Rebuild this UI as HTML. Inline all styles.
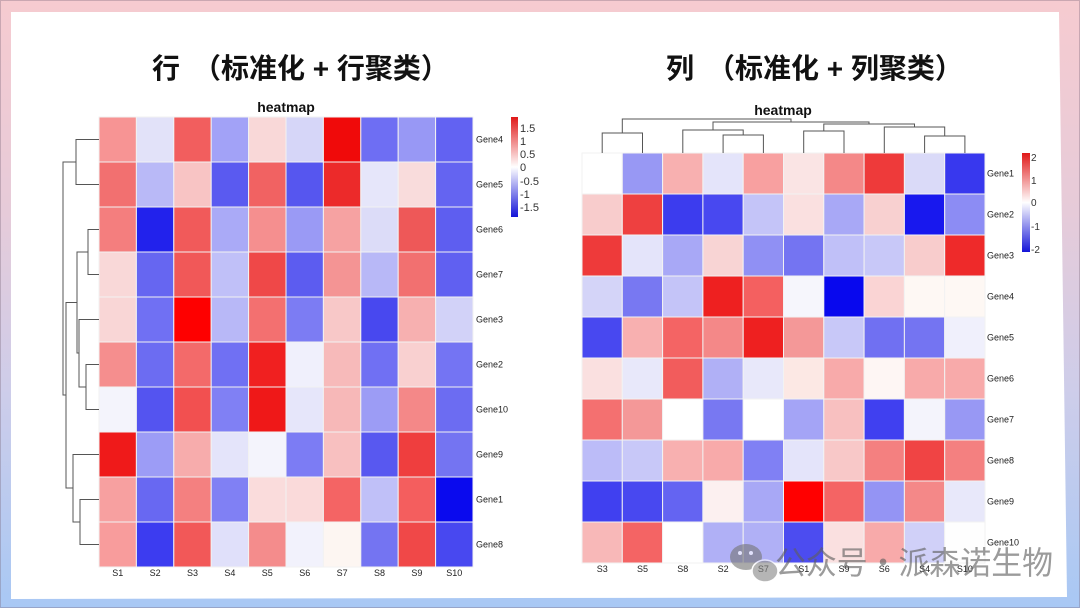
<!DOCTYPE html>
<html>
<head>
<meta charset="utf-8">
<style>
html,body{margin:0;padding:0;}
body{width:1080px;height:608px;overflow:hidden;position:relative;
background:linear-gradient(to bottom,#f6cbd0 0%,#e6cbd9 35%,#cdcdea 65%,#a8c8f4 100%);}
svg{position:absolute;left:0;top:0;}
.lab{font-family:"Liberation Sans",Arial,sans-serif;font-size:9px;fill:#222;}
.leg{font-family:"Liberation Sans",Arial,sans-serif;fill:#333;}
.ttl{font-family:"Liberation Sans","Noto Sans CJK SC",sans-serif;font-size:28px;font-weight:bold;fill:#111;}
.hm{font-family:"Liberation Sans",Arial,sans-serif;font-size:14px;font-weight:bold;fill:#111;}
.L rect,.R rect{stroke:#f2f2f2;stroke-width:1;}
.dg{fill:none;stroke:#555;stroke-width:1;}
</style>
</head>
<body>
<svg width="1080" height="608" viewBox="0 0 1080 608" xmlns="http://www.w3.org/2000/svg">
<defs>
<linearGradient id="gl" x1="0" y1="0" x2="0" y2="1">
<stop offset="0" stop-color="#e01818"/><stop offset="0.5" stop-color="#ffffff"/><stop offset="1" stop-color="#1414d8"/>
</linearGradient>
</defs>
<rect x="0.5" y="0.5" width="1079" height="607" fill="none" stroke="rgba(120,100,120,0.35)" stroke-width="1"/>
<polygon points="11,12 1059,12 1067,597 11,599" fill="#ffffff"/>

<!-- Titles -->
<text class="ttl" x="152" y="78">行</text>
<text class="ttl" x="193" y="78">（标准化 + 行聚类）</text>
<text class="ttl" x="666" y="78">列</text>
<text class="ttl" x="707" y="78">（标准化 + 列聚类）</text>

<text class="hm" x="286" y="112" text-anchor="middle">heatmap</text>
<text class="hm" x="783" y="115" text-anchor="middle">heatmap</text>

<!-- LEFT HEATMAP -->
<g class="L">
<rect x="99" y="117" width="37.4" height="45" fill="#f79494"/>
<rect x="136.4" y="117" width="37.4" height="45" fill="#e2e2f9"/>
<rect x="173.8" y="117" width="37.4" height="45" fill="#f25e5e"/>
<rect x="211.2" y="117" width="37.4" height="45" fill="#a2a2f7"/>
<rect x="248.6" y="117" width="37.4" height="45" fill="#f9d8d8"/>
<rect x="286" y="117" width="37.4" height="45" fill="#d6d6f8"/>
<rect x="323.4" y="117" width="37.4" height="45" fill="#f00a0a"/>
<rect x="360.8" y="117" width="37.4" height="45" fill="#6e6ef3"/>
<rect x="398.2" y="117" width="37.4" height="45" fill="#9898f5"/>
<rect x="435.6" y="117" width="37.4" height="45" fill="#6262f2"/>
<rect x="99" y="162" width="37.4" height="45" fill="#f27070"/>
<rect x="136.4" y="162" width="37.4" height="45" fill="#b9b9f7"/>
<rect x="173.8" y="162" width="37.4" height="45" fill="#f8c4c4"/>
<rect x="211.2" y="162" width="37.4" height="45" fill="#5a5af0"/>
<rect x="248.6" y="162" width="37.4" height="45" fill="#f16262"/>
<rect x="286" y="162" width="37.4" height="45" fill="#5656ef"/>
<rect x="323.4" y="162" width="37.4" height="45" fill="#ec2a2a"/>
<rect x="360.8" y="162" width="37.4" height="45" fill="#e6e6fa"/>
<rect x="398.2" y="162" width="37.4" height="45" fill="#f9dcdc"/>
<rect x="435.6" y="162" width="37.4" height="45" fill="#6464f1"/>
<rect x="99" y="207" width="37.4" height="45" fill="#f47e7e"/>
<rect x="136.4" y="207" width="37.4" height="45" fill="#2222ec"/>
<rect x="173.8" y="207" width="37.4" height="45" fill="#f15a5a"/>
<rect x="211.2" y="207" width="37.4" height="45" fill="#aaaaf7"/>
<rect x="248.6" y="207" width="37.4" height="45" fill="#f58f8f"/>
<rect x="286" y="207" width="37.4" height="45" fill="#9a9af5"/>
<rect x="323.4" y="207" width="37.4" height="45" fill="#f6a2a2"/>
<rect x="360.8" y="207" width="37.4" height="45" fill="#dcdcf8"/>
<rect x="398.2" y="207" width="37.4" height="45" fill="#ee5858"/>
<rect x="435.6" y="207" width="37.4" height="45" fill="#5e5ef0"/>
<rect x="99" y="252" width="37.4" height="45" fill="#f9d8d8"/>
<rect x="136.4" y="252" width="37.4" height="45" fill="#6666f1"/>
<rect x="173.8" y="252" width="37.4" height="45" fill="#f15858"/>
<rect x="211.2" y="252" width="37.4" height="45" fill="#c0c0f8"/>
<rect x="248.6" y="252" width="37.4" height="45" fill="#ef4848"/>
<rect x="286" y="252" width="37.4" height="45" fill="#5c5cf0"/>
<rect x="323.4" y="252" width="37.4" height="45" fill="#f49494"/>
<rect x="360.8" y="252" width="37.4" height="45" fill="#b8b8f7"/>
<rect x="398.2" y="252" width="37.4" height="45" fill="#f27070"/>
<rect x="435.6" y="252" width="37.4" height="45" fill="#6060f1"/>
<rect x="99" y="297" width="37.4" height="45" fill="#f9d6d6"/>
<rect x="136.4" y="297" width="37.4" height="45" fill="#7070f3"/>
<rect x="173.8" y="297" width="37.4" height="45" fill="#fe0000"/>
<rect x="211.2" y="297" width="37.4" height="45" fill="#b8b8f7"/>
<rect x="248.6" y="297" width="37.4" height="45" fill="#f37070"/>
<rect x="286" y="297" width="37.4" height="45" fill="#7c7cf3"/>
<rect x="323.4" y="297" width="37.4" height="45" fill="#f8c8c8"/>
<rect x="360.8" y="297" width="37.4" height="45" fill="#4848ef"/>
<rect x="398.2" y="297" width="37.4" height="45" fill="#f7b0b0"/>
<rect x="435.6" y="297" width="37.4" height="45" fill="#d2d2f8"/>
<rect x="99" y="342" width="37.4" height="45" fill="#f58e8e"/>
<rect x="136.4" y="342" width="37.4" height="45" fill="#6c6cf2"/>
<rect x="173.8" y="342" width="37.4" height="45" fill="#f36a6a"/>
<rect x="211.2" y="342" width="37.4" height="45" fill="#7070f3"/>
<rect x="248.6" y="342" width="37.4" height="45" fill="#f02020"/>
<rect x="286" y="342" width="37.4" height="45" fill="#f0f0fc"/>
<rect x="323.4" y="342" width="37.4" height="45" fill="#f7baba"/>
<rect x="360.8" y="342" width="37.4" height="45" fill="#7070f3"/>
<rect x="398.2" y="342" width="37.4" height="45" fill="#f9d0d0"/>
<rect x="435.6" y="342" width="37.4" height="45" fill="#7474f3"/>
<rect x="99" y="387" width="37.4" height="45" fill="#f4f4fc"/>
<rect x="136.4" y="387" width="37.4" height="45" fill="#5454f0"/>
<rect x="173.8" y="387" width="37.4" height="45" fill="#f25050"/>
<rect x="211.2" y="387" width="37.4" height="45" fill="#8080f4"/>
<rect x="248.6" y="387" width="37.4" height="45" fill="#ef1818"/>
<rect x="286" y="387" width="37.4" height="45" fill="#e6e6fa"/>
<rect x="323.4" y="387" width="37.4" height="45" fill="#f7b8b8"/>
<rect x="360.8" y="387" width="37.4" height="45" fill="#9c9cf5"/>
<rect x="398.2" y="387" width="37.4" height="45" fill="#f48888"/>
<rect x="435.6" y="387" width="37.4" height="45" fill="#6c6cf2"/>
<rect x="99" y="432" width="37.4" height="45" fill="#ef1a1a"/>
<rect x="136.4" y="432" width="37.4" height="45" fill="#9c9cf6"/>
<rect x="173.8" y="432" width="37.4" height="45" fill="#f7acac"/>
<rect x="211.2" y="432" width="37.4" height="45" fill="#e4e4fa"/>
<rect x="248.6" y="432" width="37.4" height="45" fill="#f4f4fc"/>
<rect x="286" y="432" width="37.4" height="45" fill="#7c7cf4"/>
<rect x="323.4" y="432" width="37.4" height="45" fill="#f8c0c0"/>
<rect x="360.8" y="432" width="37.4" height="45" fill="#5858f0"/>
<rect x="398.2" y="432" width="37.4" height="45" fill="#ef3e3e"/>
<rect x="435.6" y="432" width="37.4" height="45" fill="#7474f2"/>
<rect x="99" y="477" width="37.4" height="45" fill="#f7a0a0"/>
<rect x="136.4" y="477" width="37.4" height="45" fill="#6868f2"/>
<rect x="173.8" y="477" width="37.4" height="45" fill="#f48080"/>
<rect x="211.2" y="477" width="37.4" height="45" fill="#8080f4"/>
<rect x="248.6" y="477" width="37.4" height="45" fill="#fadcdc"/>
<rect x="286" y="477" width="37.4" height="45" fill="#fadada"/>
<rect x="323.4" y="477" width="37.4" height="45" fill="#f46464"/>
<rect x="360.8" y="477" width="37.4" height="45" fill="#c0c0f8"/>
<rect x="398.2" y="477" width="37.4" height="45" fill="#f45e5e"/>
<rect x="435.6" y="477" width="37.4" height="45" fill="#0a0aee"/>
<rect x="99" y="522" width="37.4" height="45" fill="#f89c9c"/>
<rect x="136.4" y="522" width="37.4" height="45" fill="#3c3cf0"/>
<rect x="173.8" y="522" width="37.4" height="45" fill="#f25858"/>
<rect x="211.2" y="522" width="37.4" height="45" fill="#e0e0fa"/>
<rect x="248.6" y="522" width="37.4" height="45" fill="#f48c8c"/>
<rect x="286" y="522" width="37.4" height="45" fill="#f2f2fc"/>
<rect x="323.4" y="522" width="37.4" height="45" fill="#fdf6f2"/>
<rect x="360.8" y="522" width="37.4" height="45" fill="#7474f2"/>
<rect x="398.2" y="522" width="37.4" height="45" fill="#f04848"/>
<rect x="435.6" y="522" width="37.4" height="45" fill="#4848f0"/>
</g>

<g class="lab">
<text x="476" y="142.5">Gene4</text>
<text x="476" y="187.5">Gene5</text>
<text x="476" y="232.5">Gene6</text>
<text x="476" y="277.5">Gene7</text>
<text x="476" y="322.5">Gene3</text>
<text x="476" y="367.5">Gene2</text>
<text x="476" y="412.5">Gene10</text>
<text x="476" y="457.5">Gene9</text>
<text x="476" y="502.5">Gene1</text>
<text x="476" y="547.5">Gene8</text>
</g>
<g class="lab" text-anchor="middle">
<text x="117.7" y="576">S1</text>
<text x="155.1" y="576">S2</text>
<text x="192.5" y="576">S3</text>
<text x="229.9" y="576">S4</text>
<text x="267.3" y="576">S5</text>
<text x="304.7" y="576">S6</text>
<text x="342.1" y="576">S7</text>
<text x="379.5" y="576">S8</text>
<text x="416.9" y="576">S9</text>
<text x="454.3" y="576">S10</text>
</g>

<path class="dg" d="
M99,139.5H76V184.5H99
M99,229.5H88V274.5H99
M99,364.5H86V409.5H99
M99,319.5H79V387H86
M88,252H77V353H79
M99,499.5H80V544.5H99
M99,454.5H73V522H80
M77,302.5H66V488H73
M76,162H63V395H66"/>

<rect x="511" y="117" width="7" height="100" fill="url(#gl)"/>
<g class="leg" font-size="11">
<text x="520" y="132">1.5</text>
<text x="520" y="145">1</text>
<text x="520" y="158">0.5</text>
<text x="520" y="171">0</text>
<text x="520" y="185">-0.5</text>
<text x="520" y="198">-1</text>
<text x="520" y="211">-1.5</text>
</g>

<!-- RIGHT HEATMAP -->
<g class="R">
<rect x="582" y="153" width="40.3" height="41" fill="#ffffff"/>
<rect x="622.3" y="153" width="40.3" height="41" fill="#9898f4"/>
<rect x="662.6" y="153" width="40.3" height="41" fill="#f8b0b0"/>
<rect x="702.9" y="153" width="40.3" height="41" fill="#e4e4fa"/>
<rect x="743.2" y="153" width="40.3" height="41" fill="#f8a0a0"/>
<rect x="783.5" y="153" width="40.3" height="41" fill="#fae4e4"/>
<rect x="823.8" y="153" width="40.3" height="41" fill="#f48888"/>
<rect x="864.1" y="153" width="40.3" height="41" fill="#ee3a3a"/>
<rect x="904.4" y="153" width="40.3" height="41" fill="#dadaf8"/>
<rect x="944.7" y="153" width="40.3" height="41" fill="#3838ee"/>
<rect x="582" y="194" width="40.3" height="41" fill="#f8cccc"/>
<rect x="622.3" y="194" width="40.3" height="41" fill="#ee4040"/>
<rect x="662.6" y="194" width="40.3" height="41" fill="#3c3cee"/>
<rect x="702.9" y="194" width="40.3" height="41" fill="#4848f0"/>
<rect x="743.2" y="194" width="40.3" height="41" fill="#c4c4f8"/>
<rect x="783.5" y="194" width="40.3" height="41" fill="#fae0e0"/>
<rect x="823.8" y="194" width="40.3" height="41" fill="#a8a8f6"/>
<rect x="864.1" y="194" width="40.3" height="41" fill="#f8d0d0"/>
<rect x="904.4" y="194" width="40.3" height="41" fill="#1818ee"/>
<rect x="944.7" y="194" width="40.3" height="41" fill="#8c8cf4"/>
<rect x="582" y="235" width="40.3" height="41" fill="#ee3a3a"/>
<rect x="622.3" y="235" width="40.3" height="41" fill="#e4e4fa"/>
<rect x="662.6" y="235" width="40.3" height="41" fill="#a8a8f6"/>
<rect x="702.9" y="235" width="40.3" height="41" fill="#f8d4d4"/>
<rect x="743.2" y="235" width="40.3" height="41" fill="#9090f4"/>
<rect x="783.5" y="235" width="40.3" height="41" fill="#7474f2"/>
<rect x="823.8" y="235" width="40.3" height="41" fill="#c0c0f8"/>
<rect x="864.1" y="235" width="40.3" height="41" fill="#c8c8f8"/>
<rect x="904.4" y="235" width="40.3" height="41" fill="#f8cccc"/>
<rect x="944.7" y="235" width="40.3" height="41" fill="#ee2a2a"/>
<rect x="582" y="276" width="40.3" height="41" fill="#d4d4f8"/>
<rect x="622.3" y="276" width="40.3" height="41" fill="#7878f2"/>
<rect x="662.6" y="276" width="40.3" height="41" fill="#c4c4f8"/>
<rect x="702.9" y="276" width="40.3" height="41" fill="#ee2020"/>
<rect x="743.2" y="276" width="40.3" height="41" fill="#f46060"/>
<rect x="783.5" y="276" width="40.3" height="41" fill="#f6f6fc"/>
<rect x="823.8" y="276" width="40.3" height="41" fill="#0808ee"/>
<rect x="864.1" y="276" width="40.3" height="41" fill="#fad4d4"/>
<rect x="904.4" y="276" width="40.3" height="41" fill="#fef8f4"/>
<rect x="944.7" y="276" width="40.3" height="41" fill="#fef8f4"/>
<rect x="582" y="317" width="40.3" height="41" fill="#4848f0"/>
<rect x="622.3" y="317" width="40.3" height="41" fill="#f8b0b0"/>
<rect x="662.6" y="317" width="40.3" height="41" fill="#f46464"/>
<rect x="702.9" y="317" width="40.3" height="41" fill="#f48888"/>
<rect x="743.2" y="317" width="40.3" height="41" fill="#ee2020"/>
<rect x="783.5" y="317" width="40.3" height="41" fill="#f49898"/>
<rect x="823.8" y="317" width="40.3" height="41" fill="#c8c8f8"/>
<rect x="864.1" y="317" width="40.3" height="41" fill="#7070f2"/>
<rect x="904.4" y="317" width="40.3" height="41" fill="#7474f2"/>
<rect x="944.7" y="317" width="40.3" height="41" fill="#f0f0fc"/>
<rect x="582" y="358" width="40.3" height="41" fill="#fae0e0"/>
<rect x="622.3" y="358" width="40.3" height="41" fill="#e8e8fa"/>
<rect x="662.6" y="358" width="40.3" height="41" fill="#f25c5c"/>
<rect x="702.9" y="358" width="40.3" height="41" fill="#b0b0f6"/>
<rect x="743.2" y="358" width="40.3" height="41" fill="#e8e8fa"/>
<rect x="783.5" y="358" width="40.3" height="41" fill="#fce8e4"/>
<rect x="823.8" y="358" width="40.3" height="41" fill="#f8aaaa"/>
<rect x="864.1" y="358" width="40.3" height="41" fill="#fef6f4"/>
<rect x="904.4" y="358" width="40.3" height="41" fill="#f8aaaa"/>
<rect x="944.7" y="358" width="40.3" height="41" fill="#f8aaaa"/>
<rect x="582" y="399" width="40.3" height="41" fill="#f47070"/>
<rect x="622.3" y="399" width="40.3" height="41" fill="#f49898"/>
<rect x="662.6" y="399" width="40.3" height="41" fill="#ffffff"/>
<rect x="702.9" y="399" width="40.3" height="41" fill="#7878f2"/>
<rect x="743.2" y="399" width="40.3" height="41" fill="#ffffff"/>
<rect x="783.5" y="399" width="40.3" height="41" fill="#a4a4f6"/>
<rect x="823.8" y="399" width="40.3" height="41" fill="#f8c0c0"/>
<rect x="864.1" y="399" width="40.3" height="41" fill="#4040f0"/>
<rect x="904.4" y="399" width="40.3" height="41" fill="#f4f4fc"/>
<rect x="944.7" y="399" width="40.3" height="41" fill="#9898f4"/>
<rect x="582" y="440" width="40.3" height="41" fill="#bcbcf8"/>
<rect x="622.3" y="440" width="40.3" height="41" fill="#c8c8f8"/>
<rect x="662.6" y="440" width="40.3" height="41" fill="#f8b0b0"/>
<rect x="702.9" y="440" width="40.3" height="41" fill="#f8aaaa"/>
<rect x="743.2" y="440" width="40.3" height="41" fill="#8080f4"/>
<rect x="783.5" y="440" width="40.3" height="41" fill="#e4e4fa"/>
<rect x="823.8" y="440" width="40.3" height="41" fill="#f8c8c8"/>
<rect x="864.1" y="440" width="40.3" height="41" fill="#f48080"/>
<rect x="904.4" y="440" width="40.3" height="41" fill="#f04444"/>
<rect x="944.7" y="440" width="40.3" height="41" fill="#f48080"/>
<rect x="582" y="481" width="40.3" height="41" fill="#4040f0"/>
<rect x="622.3" y="481" width="40.3" height="41" fill="#4848f0"/>
<rect x="662.6" y="481" width="40.3" height="41" fill="#6464f2"/>
<rect x="702.9" y="481" width="40.3" height="41" fill="#fcf0f0"/>
<rect x="743.2" y="481" width="40.3" height="41" fill="#a8a8f6"/>
<rect x="783.5" y="481" width="40.3" height="41" fill="#ff0000"/>
<rect x="823.8" y="481" width="40.3" height="41" fill="#f46464"/>
<rect x="864.1" y="481" width="40.3" height="41" fill="#9494f4"/>
<rect x="904.4" y="481" width="40.3" height="41" fill="#f48888"/>
<rect x="944.7" y="481" width="40.3" height="41" fill="#e8e8fa"/>
<rect x="582" y="522" width="40.3" height="41" fill="#f8b8b8"/>
<rect x="622.3" y="522" width="40.3" height="41" fill="#f46464"/>
<rect x="662.6" y="522" width="40.3" height="41" fill="#ffffff"/>
<rect x="702.9" y="522" width="40.3" height="41" fill="#b0b0f6"/>
<rect x="743.2" y="522" width="40.3" height="41" fill="#b0b0f6"/>
<rect x="783.5" y="522" width="40.3" height="41" fill="#4c4cf0"/>
<rect x="823.8" y="522" width="40.3" height="41" fill="#fae0e0"/>
<rect x="864.1" y="522" width="40.3" height="41" fill="#f8aaaa"/>
<rect x="904.4" y="522" width="40.3" height="41" fill="#d0d0f8"/>
<rect x="944.7" y="522" width="40.3" height="41" fill="#fefefe"/>
</g>

<g class="lab">
<text x="987" y="176.5">Gene1</text>
<text x="987" y="217.5">Gene2</text>
<text x="987" y="258.5">Gene3</text>
<text x="987" y="299.5">Gene4</text>
<text x="987" y="340.5">Gene5</text>
<text x="987" y="381.5">Gene6</text>
<text x="987" y="422.5">Gene7</text>
<text x="987" y="463.5">Gene8</text>
<text x="987" y="504.5">Gene9</text>
<text x="987" y="545.5">Gene10</text>
</g>
<g class="lab" text-anchor="middle">
<text x="602.2" y="572">S3</text>
<text x="642.5" y="572">S5</text>
<text x="682.8" y="572">S8</text>
<text x="723.1" y="572">S2</text>
<text x="763.4" y="572">S7</text>
<text x="803.7" y="572">S1</text>
<text x="844" y="572">S9</text>
<text x="884.3" y="572">S6</text>
<text x="924.6" y="572">S4</text>
<text x="964.9" y="572">S10</text>
</g>

<path class="dg" d="
M602.2,153V133H642.5V153
M723.1,153V135H763.4V153
M682.8,153V130H743.2V135
M803.7,153V131H844V153
M924.6,153V136H964.9V153
M884.3,153V127H944.7V136
M823.8,131V124H914.5V127
M713,130V122H869V124
M622.3,133V119H791V122"/>

<rect x="1022" y="153" width="8" height="99" fill="url(#gl)"/>
<g class="leg" font-size="10">
<text x="1031" y="161">2</text>
<text x="1031" y="184">1</text>
<text x="1031" y="206">0</text>
<text x="1031" y="230">-1</text>
<text x="1031" y="253">-2</text>
</g>

<!-- Watermark -->
<g opacity="0.62">
<ellipse cx="746" cy="557" rx="16" ry="13" fill="#777777"/>
<ellipse cx="765" cy="571" rx="13" ry="11" fill="#888888" stroke="#ffffff" stroke-width="1.5"/>
<circle cx="740" cy="553" r="2" fill="#fff"/>
<circle cx="751" cy="553" r="2" fill="#fff"/>
<text x="775" y="574" font-family="'Noto Sans CJK SC','WenQuanYi Zen Hei',sans-serif" font-size="32" fill="#5e5e5e" textLength="278" lengthAdjust="spacingAndGlyphs">公众号·派森诺生物</text>
</g>
</svg>
</body>
</html>
